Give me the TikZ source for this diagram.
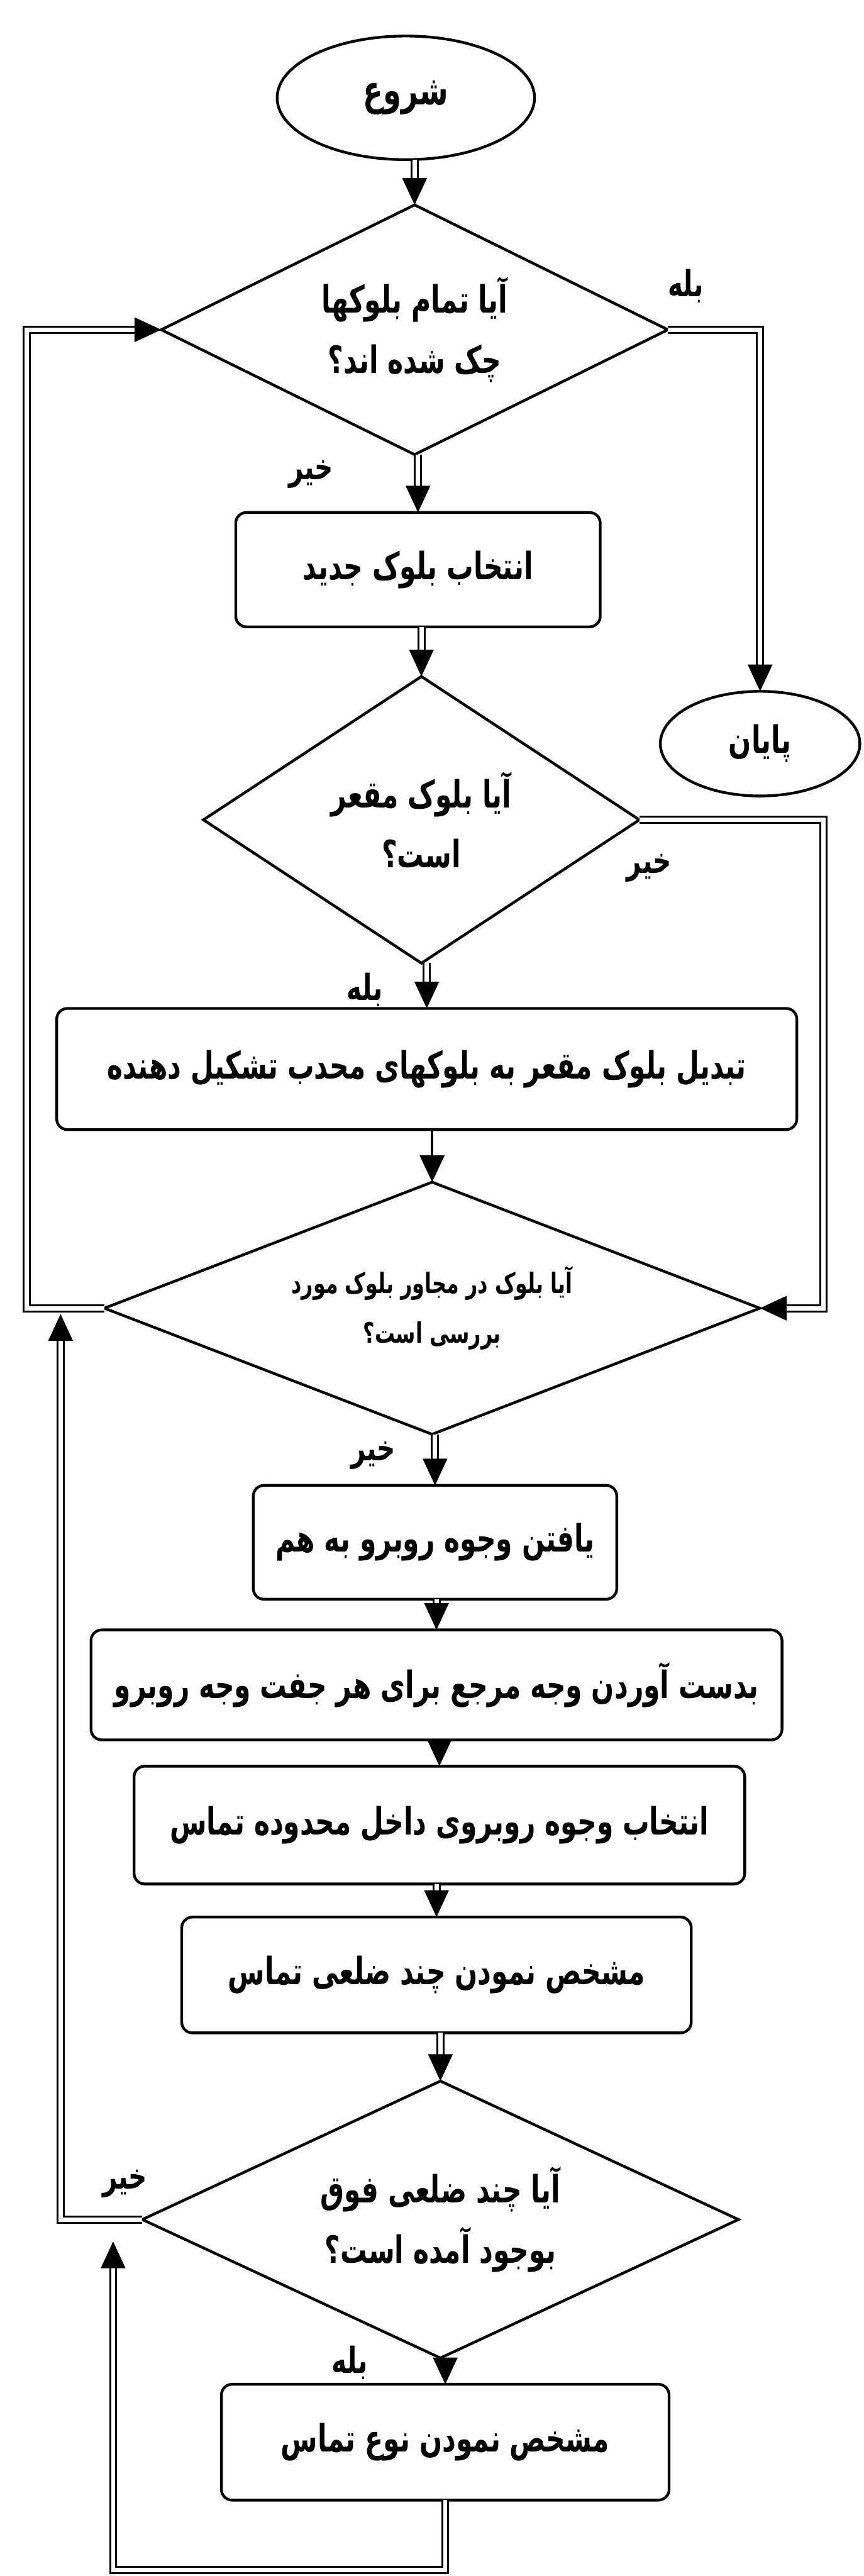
\documentclass[tikz,border=0pt]{standalone}
\usepackage{fontspec}
\usepackage{tikz}
\usetikzlibrary{shapes.geometric, arrows.meta, positioning}
\newfontfamily\arabicfont[Script=Arabic, FakeStretch=0.71]{DejaVu Sans}
\TeXXeTstate=1
\newcommand{\fa}[1]{\beginR #1\endR}
\tikzset{
  terminal/.style={ellipse, draw, line width=1.6pt, inner sep=0pt, outer sep=0pt, font=\arabicfont\bfseries\fontsize{22}{35}\selectfont},
  process/.style={rectangle, rounded corners=0.22cm, draw, line width=1.6pt, align=center, inner sep=0pt, outer sep=0pt, font=\arabicfont\bfseries\fontsize{22}{35}\selectfont},
  decision/.style={diamond, draw, line width=1.6pt, align=center, inner sep=0pt, outer sep=0pt, font=\arabicfont\bfseries\fontsize{22}{35}\selectfont},
  answer/.style={inner sep=0pt, outer sep=0pt, font=\arabicfont\bfseries\fontsize{21}{24}\selectfont},
  flow/.style={double, double distance=2.5pt, line width=1.1pt, -{Triangle[length=0.55cm, width=0.5cm]}},
  single/.style={line width=1.6pt, -{Triangle[length=0.55cm, width=0.5cm]}}
}

\begin{document}
\begin{tikzpicture}[node distance=1cm]
\useasboundingbox (0,0) rectangle (17.75,-52.93);

\node[terminal, minimum width=5.29cm, minimum height=2.54cm, font=\arabicfont\bfseries\fontsize{24}{30}\selectfont] (start) at (8.34,-2.01) {\fa{شروع}};
\node[decision, aspect=2.03, minimum width=10.41cm, minimum height=5.13cm, below=0.93cm of start, xshift=0.18cm] (allchk) {\fa{آیا تمام بلوکها}\\\fa{چک شده اند؟}};
\node[terminal, minimum width=4.1cm, minimum height=2.15cm] (stop) at (15.62,-15.28) {\fa{پایان}};
\node[process, minimum width=7.49cm, minimum height=2.35cm, below=1.19cm of allchk, xshift=0.07cm] (newblk) {\fa{انتخاب بلوک جدید}};
\node[decision, aspect=1.52, minimum width=8.96cm, minimum height=5.89cm, below=1.02cm of newblk, xshift=0.07cm] (concave) {\fa{آیا بلوک مقعر}\\\fa{است؟}};
\node[process, minimum width=15.21cm, minimum height=2.49cm, below=0.93cm of concave, xshift=0.11cm] (split) {\fa{تبدیل بلوک مقعر به بلوکهای محدب تشکیل دهنده}};
\node[decision, aspect=2.6, minimum width=13.47cm, minimum height=5.18cm, below=1.08cm of split, xshift=0.11cm, font=\arabicfont\bfseries\fontsize{16.5}{29}\selectfont] (adj) {\fa{آیا بلوک در مجاور بلوک مورد}\\\fa{بررسی است؟}};
\node[process, minimum width=7.47cm, minimum height=2.34cm, below=1.05cm of adj, xshift=0.06cm] (faces) {\fa{یافتن وجوه روبرو به هم}};
\node[process, minimum width=14.2cm, minimum height=2.26cm, below=0.63cm of faces, xshift=0.03cm] (refface) {\fa{بدست آوردن وجه مرجع برای هر جفت وجه روبرو}};
\node[process, minimum width=12.55cm, minimum height=2.42cm, below=0.54cm of refface, xshift=0.06cm] (inside) {\fa{انتخاب وجوه روبروی داخل محدوده تماس}};
\node[process, minimum width=10.47cm, minimum height=2.38cm, below=0.68cm of inside, xshift=-0.06cm] (poly) {\fa{مشخص نمودن چند ضلعی تماس}};
\node[decision, aspect=2.15, minimum width=12.25cm, minimum height=5.69cm, below=0.99cm of poly, xshift=0.08cm] (polychk) {\fa{آیا چند ضلعی فوق}\\\fa{بوجود آمده است؟}};
\node[process, minimum width=9.2cm, minimum height=2.38cm, below=0.54cm of polychk, xshift=0.1cm] (ctype) {\fa{مشخص نمودن نوع تماس}};

\node[answer, above right=0.55cm and 0cm of allchk.east] (yesall) {\fa{بله}};
\node[answer, below left=0.12cm and 1.67cm of allchk.south] (noall) {\fa{خیر}};
\node[answer, below=0.7cm of concave.east, xshift=0.2cm] (noconc) {\fa{خیر}};
\node[answer, below left=0.2cm and 0.8cm of concave.south] (yesconc) {\fa{بله}};
\node[answer, below left=0.15cm and 0.75cm of adj.south] (noadj) {\fa{خیر}};
\node[answer, above left=0.45cm and -0.1cm of polychk.west] (nopoly) {\fa{خیر}};
\node[answer, left=1.5cm of polychk.south, yshift=-0.1cm] (yespoly) {\fa{بله}};

\coordinate (adjjoin) at ([xshift=-0.9cm, yshift=-0.12cm]adj.west);
\coordinate (polyjoin) at ([xshift=-0.6cm, yshift=-0.45cm]polychk.west);

\draw[flow] (allchk.north |- start.south) -- (allchk.north);
\draw[flow] (allchk.east) -| (stop.north);
\draw[flow] (newblk.north |- allchk.south) -- (newblk.north);
\draw[flow] (concave.north |- newblk.south) -- (concave.north);
\draw[flow] (concave.east) -- ++(3.78,0) |- (adj.east);
\draw[flow] (split.north |- concave.south) -- (split.north);
\draw[single] (adj.north |- split.south) -- (adj.north);
\draw[flow] (adj.west) -- ++(-1.6,0) |- (allchk.west);
\draw[flow] (faces.north |- adj.south) -- (faces.north);
\draw[flow] (refface.north |- faces.south) -- (refface.north);
\draw[flow] (inside.north |- refface.south) -- (inside.north);
\draw[flow] (poly.north |- inside.south) -- (poly.north);
\draw[flow] (polychk.north |- poly.south) -- (polychk.north);
\draw[flow] (ctype.north |- polychk.south) -- (ctype.north);
\draw[flow] (polychk.west) -| (adjjoin);
\draw[flow] (ctype.south) -- ++(0,-1.44) -| (polyjoin);
\end{tikzpicture}
\end{document}
